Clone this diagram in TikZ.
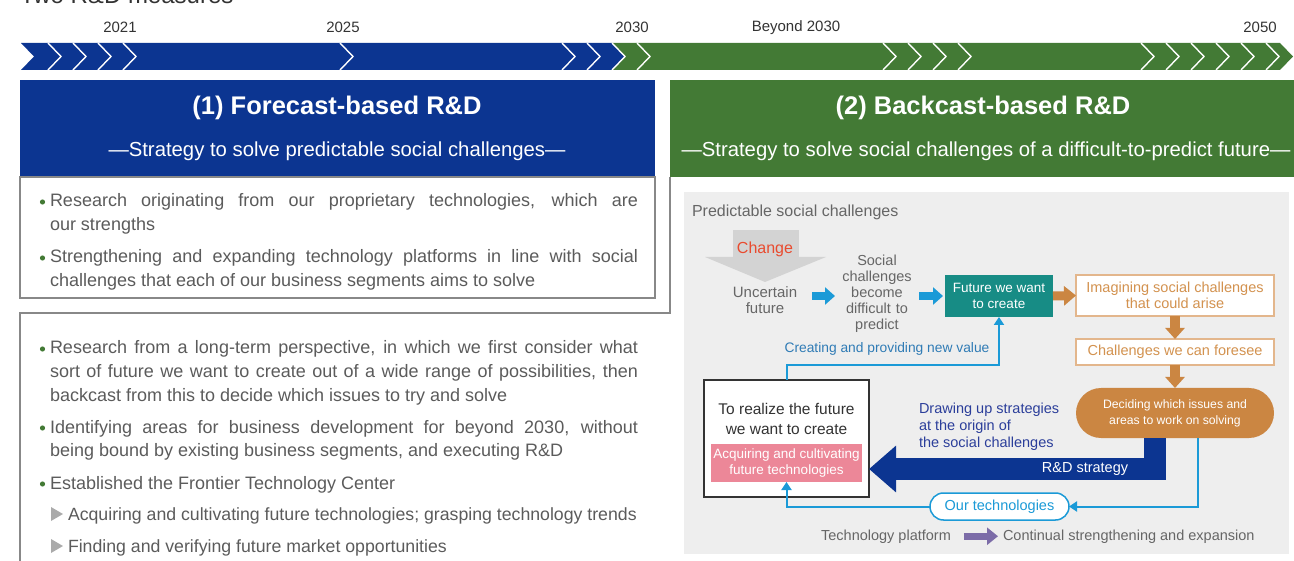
\documentclass[tikz,border=0pt]{standalone}
\usepackage{fontspec}
\setmainfont{Liberation Sans}
\usetikzlibrary{arrows.meta,calc}
\definecolor{navy}{HTML}{0C3591}
\definecolor{grn}{HTML}{437A35}
\definecolor{bodyc}{HTML}{5B5B5B}
\definecolor{pgray}{HTML}{666666}
\definecolor{tgray}{HTML}{333333}
\definecolor{panel}{HTML}{EEEEEE}
\definecolor{cyanb}{HTML}{1B9AD7}
\definecolor{tealb}{HTML}{178C85}
\definecolor{orng}{HTML}{CB8642}
\definecolor{lorng}{HTML}{E3B68C}
\definecolor{torng}{HTML}{D3924F}
\definecolor{pinkb}{HTML}{EC8798}
\definecolor{purp}{HTML}{7C6CA8}
\definecolor{redc}{HTML}{E94B2F}
\definecolor{dblue}{HTML}{2B3E9A}
\definecolor{cblue}{HTML}{2F7BB5}
\definecolor{chg}{HTML}{D3D3D3}
\definecolor{boxg}{HTML}{888888}
\definecolor{trig}{HTML}{AAAAAA}
\newcommand\fsz[2]{\fontsize{#1}{#2}\selectfont}
\begin{document}
\begin{tikzpicture}[x=1pt,y=-1pt,
  every node/.style={inner sep=0pt,outer sep=0pt},
  yrlabel/.style={font=\fsz{15}{18},text=tgray},
  bodytext/.style={font=\fsz{18}{24},text=bodyc,text width=588,align=justify,anchor=base west},
  subtext/.style={font=\fsz{17.7}{24},text=bodyc,anchor=base west},
  gtext/.style={font=\fsz{14.5}{16},text=pgray,align=center},
  cyanblk/.style={cyanb,line width=8,-{Triangle[length=10,width=17]}},
  orblk/.style={orng,line width=10,-{Triangle[length=11,width=19]}},
  cyanline/.style={cyanb,line width=2,-{Triangle[length=8,width=10]}},
  obox/.style={draw=lorng,line width=1.2,fill=white,text=torng,font=\fsz{14.5}{16},align=center,minimum width=198}
]
\useasboundingbox (0,0) rectangle (1294,561);
\begin{scope}
\clip (0,0) rectangle (1294,561);
\node[anchor=base west,text=tgray,font=\fsz{24}{28}] (ttl) at (20,4) {Two R\&D measures};
\end{scope}
% timeline
\fill[navy] (21,43) -- (612,43) -- (625,56.5) -- (612,70) -- (21,70) -- (34,56.5) -- cycle;
\fill[grn] (612,43) -- (1280,43) -- (1293,56.5) -- (1280,70) -- (612,70) -- (625,56.5) -- cycle;
\foreach \t in {61,86,111,136,353,575,600,625,650,896,921,946,971,1154,1179,1204,1229,1254,1279}
  \draw[white,line width=1.4] (\t-13,43) -- (\t,56.5) -- (\t-13,70);
\node[yrlabel] (y21) at (120,27) {2021};
\node[yrlabel] (y25) at (343,27) {2025};
\node[yrlabel] (y30) at (632,27) {2030};
\node[yrlabel] (yb30) at (796,28) {Beyond 2030};
\node[yrlabel] (y50) at (1260,27) {2050};
% headers
\node[fill=navy,minimum width=635,minimum height=97,anchor=north west] (hL) at (20,80) {};
\node[fill=grn,minimum width=624,minimum height=97,anchor=north west] (hR) at (670,80) {};
\node[text=white,font=\bfseries\fsz{25.5}{28}] (tL) at (337,108) {(1) Forecast-based R\&D};
\node[text=white,font=\fsz{20.3}{24}] (sL) at (337,151) {—Strategy to solve predictable social challenges—};
\node[text=white,font=\bfseries\fsz{25.5}{28}] (tR) at (983,108) {(2) Backcast-based R\&D};
\node[text=white,font=\fsz{20.3}{24}] (sR) at (986,151) {—Strategy to solve social challenges of a difficult-to-predict future—};
% left boxes
\draw[boxg,line width=1.2,fill=white] (20,177) rectangle (655,298);
\draw[boxg,line width=1.2] (20,561) -- (20,313) -- (670,313) -- (670,177);
\node[bodytext] (b1) at (50,207) {Research originating from our proprietary technologies, which are\linebreak our strengths};
\node[bodytext] (b2) at (50,263) {Strengthening and expanding technology platforms in line with social\linebreak challenges that each of our business segments aims to solve};
\node[bodytext] (b3) at (50,354) {Research from a long-term perspective, in which we first consider what\linebreak sort of future we want to create out of a wide range of possibilities, then\linebreak backcast from this to decide which issues to try and solve};
\node[bodytext] (b4) at (50,433) {Identifying areas for business development for beyond 2030, without\linebreak being bound by existing business segments, and executing R\&D};
\node[bodytext] (b5) at (50,489) {Established the Frontier Technology Center};
\node[subtext] (s1) at (68,520) {Acquiring and cultivating future technologies; grasping technology trends};
\node[subtext] (s2) at (68,552) {Finding and verifying future market opportunities};
\foreach \yy in {202,258,349,428,484} \fill[grn] (42.5,\yy) circle (2.6);
\fill[trig] (51,507) -- (63,514) -- (51,521) -- cycle;
\fill[trig] (51,539) -- (63,546) -- (51,553) -- cycle;
% right panel
\fill[panel] (684,192) rectangle (1289,554);
\node[anchor=base west,font=\fsz{16}{18},text=pgray] (pred) at (692,217) {Predictable social challenges};
\fill[chg] (733,230) rectangle (799,257);
\fill[chg] (705,257) -- (826,257) -- (765,282) -- cycle;
\node[font=\fsz{16}{18},text=redc] (chgt) at (765,249) {Change};
\node[gtext,font=\fsz{15}{16},text width=80] (unc) at (765,300) {Uncertain\\future};
\node[gtext,text width=84] (soc) at (877,294) {Social\\challenges\\become\\difficult to\\predict};
\node[fill=tealb,text=white,minimum width=108,minimum height=42,align=center,font=\fsz{13.5}{16}] (fut) at (999,296) {Future we want\\to create};
\node[obox,minimum height=41] (imag) at (1175,295.5) {Imagining social challenges\\that could arise};
\node[obox,minimum height=26] (fore) at (1175,352) {Challenges we can foresee};
\node[fill=orng,text=white,minimum width=198,minimum height=50,rounded corners=25,align=center,font=\fsz{12.2}{16}] (pill) at (1175,413) {Deciding which issues and\\areas to work on solving};
\node[draw=tgray,line width=1.2,fill=white,minimum width=165,minimum height=117] (real) at (786.5,438.5) {};
\node[align=center,font=\fsz{15.5}{20},text=tgray] (realt) at (786.5,419) {To realize the future\\we want to create};
\node[fill=pinkb,text=white,minimum width=151,minimum height=38,align=center,font=\fsz{13.5}{16}] (pink) at (786.5,463) {Acquiring and cultivating\\future technologies};
\node[anchor=west,align=left,font=\fsz{14.5}{17},text=dblue] (drw) at (919,426.5) {Drawing up strategies\\at the origin of\\the social challenges};
\node[font=\fsz{13.8}{16},text=cblue] (cre) at (887,349) {Creating and providing new value};
\node[draw=cyanb,line width=1.5,fill=white,text=cyanb,minimum width=139,minimum height=27,rounded corners=13.5,font=\fsz{14.5}{16}] (ours) at (999.5,506.5) {Our technologies};
\node[anchor=base,font=\fsz{14.5}{16},text=pgray] (tp) at (886,540) {Technology platform};
\node[anchor=base west,font=\fsz{14.5}{16},text=pgray] (ce) at (1003,540) {Continual strengthening and expansion};
% connectors
\coordinate (ay) at (0,296);
\draw[cyanblk,shorten <=7] (unc.east |- ay) -- (soc.west |- ay);
\draw[cyanblk,shorten >=2] (soc.east |- ay) -- (fut.west |- ay);
\draw[orng,line width=9,-{Triangle[length=12,width=19]}] (fut.east) -- (imag.west);
\draw[orblk] (imag.south) -- (fore.north);
\draw[orblk] (fore.south) -- (pill.north);
\coordinate (rdx) at (1155,469);
\draw[navy,line width=22,-{Triangle[length=27,width=45]}] (pill.south -| rdx) |- (real.east |- rdx);
\node[font=\fsz{14.5}{16},text=white] (rdl) at (1085,469) {R\&D strategy};
\coordinate (cx) at (1198,0);
\draw[cyanline] (pill.south -| cx) |- (ours.east);
\draw[cyanline] (ours.west) -| (pink.south);
\draw[cyanline] (real.north) -- ++(0,-15) -| (fut.south);
\draw[purp,line width=7,-{Triangle[length=11,width=17]},shorten <=13,shorten >=5] (tp.east) -- (ce.west);
\end{tikzpicture}
\end{document}
